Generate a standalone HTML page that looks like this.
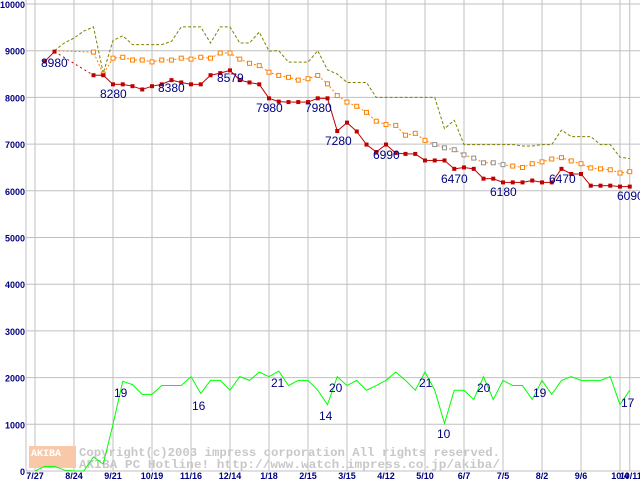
<!DOCTYPE html>
<html><head><meta charset="utf-8"><style>
body{margin:0;background:#fff;width:640px;height:480px;overflow:hidden}
svg{display:block}
</style></head><body>
<svg id="chart" width="640" height="480" xmlns="http://www.w3.org/2000/svg" font-family="Liberation Sans, sans-serif"></svg>
<script>
const xLabels=["7/27","8/24","9/21","10/19","11/16","12/14","1/18","2/15","3/15","4/12","5/10","6/7","7/5","8/2","9/6","10/4","10/11"];
const yTicks=[0,1000,2000,3000,4000,5000,6000,7000,8000,9000,10000];
const redIdx=[1,2,6,7,8,9,10,11,12,13,14,15,16,17,18,19,20,21,22,23,24,25,26,27,28,29,30,31,32,33,34,35,36,37,38,39,40,41,42,43,44,45,46,47,48,49,50,51,52,53,54,55,56,57,58,59,60,61];
const redVals=[8770,8980,8475,8475,8280,8280,8240,8170,8240,8280,8370,8320,8280,8280,8475,8520,8579,8370,8320,8280,7980,7910,7900,7900,7900,7980,7980,7280,7460,7270,6990,6830,6990,6810,6790,6790,6650,6650,6650,6470,6500,6470,6260,6260,6180,6180,6180,6220,6180,6180,6470,6360,6360,6110,6110,6110,6090,6090];
const orIdx=[2,6,7,8,9,10,11,12,13,14,15,16,17,18,19,20,21,22,23,24,25,26,27,28,29,30,31,32,33,34,35,36,37,38,39,40,41,42,43,44,45,46,47,48,49,50,51,52,53,54,55,56,57,58,59,60,61];
const orVals=[9000,8970,8500,8840,8860,8800,8800,8760,8800,8800,8840,8820,8860,8840,8950,8950,8820,8730,8680,8540,8470,8430,8370,8400,8470,8290,8040,7900,7810,7680,7490,7420,7400,7190,7230,7080,6990,6920,6880,6770,6700,6600,6600,6560,6530,6500,6580,6620,6680,6710,6640,6580,6490,6470,6450,6380,6410];
const maxVals=[null,null,9000,9165,9270,9420,9510,8520,9220,9320,9130,9130,9130,9130,9200,9510,9510,9510,9165,9510,9510,9165,9165,9400,8990,9000,8755,8755,8755,9000,8590,8500,8320,8320,8320,8000,8000,8000,8000,8000,8000,8000,7330,7510,6990,6990,6990,6990,6990,6990,6960,6960,6990,6990,7300,7160,7160,7160,6990,6990,6720,6690];
const cntVals=[0,100,100,20,0,0,300,150,1000,1920,1850,1640,1640,1830,1830,1830,2020,1660,1940,1940,1730,2020,1940,2120,2020,2140,1830,1940,1940,1730,1420,2020,1830,1940,1730,1830,1940,2120,1940,1730,2120,1730,1020,1730,1730,1530,2020,1530,1940,1830,1830,1530,1940,1640,1940,2020,1940,1940,1940,2020,1420,1730];
const priceLabels=[["8980",41,67],["8280",100,98],["8380",158,92],["8579",217,82],["7980",256,112],["7980",305,112],["7280",325,145],["6990",373,159],["6470",441,183],["6180",490,196],["6470",549,183],["6090",617,200]];
const cntLabels=[["19",114,397],["16",192,410],["21",271,387],["20",329,392],["14",319,420],["21",419,387],["10",437,438],["20",477,392],["19",533,397],["17",621,407]];
const svg=document.getElementById('chart');const NS='http://www.w3.org/2000/svg';
const X=k=>35+9.75*k;const Y=v=>471-v*0.0467;
function mk(t,a){const e=document.createElementNS(NS,t);for(const k in a)e.setAttribute(k,a[k]);svg.appendChild(e);return e;}
yTicks.forEach(v=>{const l=mk('line',{x1:26,x2:640,y1:Y(v),y2:Y(v),stroke:'#c0c0c0'});


const t=mk('text',{x:25,y:Y(v)+4,'text-anchor':'end','font-size':9,'font-weight':'bold',fill:'#000080'});t.textContent=v;

});
mk('line',{x1:26,x2:26,y1:0,y2:471,stroke:'#c0c0c0'});
xLabels.forEach((s,i)=>{const x=i<16?X(i*4):X(61);
const l=mk('line',{x1:x,x2:x,y1:0,y2:471,stroke:'#c0c0c0'});


const t=mk('text',{x:i==16?x+1:x,y:479,'text-anchor':'middle','font-size':9,'font-weight':'bold',fill:'#000080'});t.textContent=s;

});
// watermark
const wm=mk('rect',{x:29,y:446,width:47,height:22,fill:'#f8c8a8'});


const w1=mk('text',{x:31,y:456,'font-size':10,'font-weight':'bold',fill:'#fff','font-family':'Liberation Mono, monospace'});w1.textContent='AKIBA';


const c1=mk('text',{x:79,y:456,'font-size':12,'font-weight':'bold',fill:'#c8c8c8','font-family':'Liberation Mono, monospace',textLength:421,lengthAdjust:'spacingAndGlyphs'});c1.textContent='Copyright(c)2003 impress corporation All rights reserved.';


const c2=mk('text',{x:79,y:468,'font-size':12,'font-weight':'bold',fill:'#c8c8c8','font-family':'Liberation Mono, monospace',textLength:421,lengthAdjust:'spacingAndGlyphs'});c2.textContent='AKIBA PC Hotline!  http://www.watch.impress.co.jp/akiba/';


// max series
let d='';maxVals.forEach((v,k)=>{if(v!=null)d+=(d?'L':'M')+X(k)+' '+Y(v);});
const pm=mk('path',{d:d,fill:'none',stroke:'#808000','stroke-dasharray':'3,2'});


// average series
d='';orIdx.forEach((k,i)=>{d+=(i?'L':'M')+X(k)+' '+Y(orVals[i]);});
const po=mk('path',{d:d,fill:'none',stroke:'#ff8000','stroke-dasharray':'2,2'});


orIdx.forEach((k,i)=>{if(i==0)return;const r=mk('rect',{x:X(k)-2,y:Y(orVals[i])-2,width:4,height:4,fill:'#fff',stroke:(k>=41&&k<=48)?'#909090':'#ff8000'});

});
// min series: solid where consecutive, dotted across data gap
for(let i=1;i<redIdx.length;i++){const k0=redIdx[i-1],k1=redIdx[i];
const seg=mk('line',{x1:X(k0),y1:Y(redVals[i-1]),x2:X(k1),y2:Y(redVals[i]),stroke:'#c00000'});
if(k1-k0>1)seg.setAttribute('stroke-dasharray','2,3');

}
redIdx.forEach((k,i)=>{const r=mk('rect',{x:X(k)-2,y:Y(redVals[i])-2,width:4,height:4,fill:'#c00000'});

});
// count series
d='';cntVals.forEach((v,k)=>{d+=(k?'L':'M')+X(k)+' '+Y(v);});
const pc=mk('path',{d:d,fill:'none',stroke:'#00ff00'});


priceLabels.forEach(a=>{const t=mk('text',{x:a[1],y:a[2],'font-size':12,fill:'#000080'});t.textContent=a[0];

});
cntLabels.forEach(a=>{const t=mk('text',{x:a[1],y:a[2],'font-size':12,fill:'#000080'});t.textContent=a[0];

});
</script>
</body></html>
